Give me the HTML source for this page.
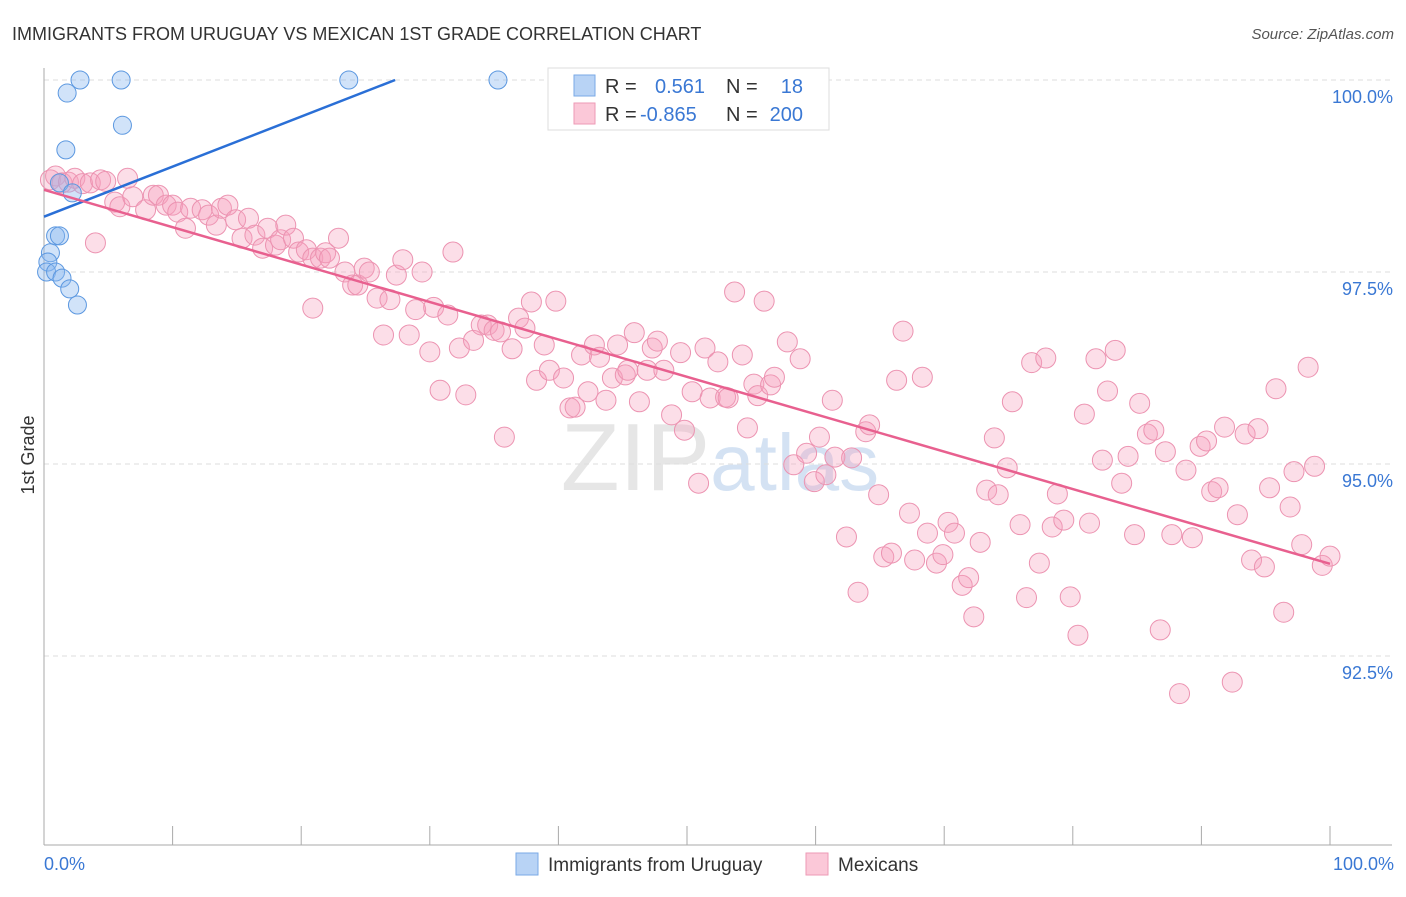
<!DOCTYPE html>
<html><head><meta charset="utf-8">
<style>
html,body{margin:0;padding:0;background:#fff;}
body{width:1406px;height:892px;overflow:hidden;font-family:"Liberation Sans",sans-serif;}
svg text{font-family:"Liberation Sans",sans-serif;}
</style></head>
<body>
<svg id="chart" width="1406" height="892" viewBox="0 0 1406 892">
<text x="12" y="40" font-size="18" fill="#333">IMMIGRANTS FROM URUGUAY VS MEXICAN 1ST GRADE CORRELATION CHART</text>
<text x="1394" y="39" font-size="15" fill="#555" font-style="italic" text-anchor="end">Source: ZipAtlas.com</text>
<text x="720" y="490" font-size="96" fill="#e6e6e6" text-anchor="middle" font-family="Liberation Serif">ZIP<tspan fill="#d4e2f3" font-family="Liberation Sans" font-size="80">atlas</tspan></text>
<g id="grid"></g>
<g id="axes"></g>
<g id="marks"></g>
<text transform="translate(34,455) rotate(-90)" font-size="18" fill="#333" text-anchor="middle">1st Grade</text>
<g>
<rect x="548" y="68" width="281" height="62" fill="#fff" stroke="#ddd"/>
<rect x="574" y="75" width="21" height="21" fill="#b8d3f5" stroke="#7aaae6"/>
<rect x="574" y="103" width="21" height="21" fill="#fbc8d8" stroke="#ee9ab6"/>
<text x="605" y="93" font-size="20" fill="#333">R = <tspan x="655" fill="#3a78d4">0.561</tspan><tspan x="726" fill="#333">N =</tspan><tspan x="803" fill="#3a78d4" text-anchor="end">18</tspan></text>
<text x="605" y="121" font-size="20" fill="#333">R = <tspan x="640" fill="#3a78d4">-0.865</tspan><tspan x="726" fill="#333">N =</tspan><tspan x="803" fill="#3a78d4" text-anchor="end">200</tspan></text>
</g>
<g>
<rect x="516" y="853" width="22" height="22" fill="#b8d3f5" stroke="#7aaae6"/>
<text x="548" y="871" font-size="19" fill="#333">Immigrants from Uruguay</text>
<rect x="806" y="853" width="22" height="22" fill="#fbc8d8" stroke="#ee9ab6"/>
<text x="838" y="871" font-size="19" fill="#333">Mexicans</text>
</g>
</svg>
<script>
const yTicks=[100,97.5,95,92.5];
const yTickLabels=["100.0%","97.5%","95.0%","92.5%"];
const xTickLabels=["0.0%","100.0%"];
const uruguayX=[2.8,6.0,23.7,35.3,1.8,6.1,1.7,1.2,2.2,0.9,1.2,0.5,0.3,0.2,0.9,1.4,2.0,2.6];
const uruguayY=[100,100,100,100,99.83,99.41,99.09,98.66,98.53,97.97,97.97,97.75,97.63,97.5,97.5,97.42,97.28,97.07];
const mexX=[0.5,0.9,1.4,1.9,2.4,3.0,3.6,4.4,4.8,6.5,5.5,5.9,6.9,7.9,8.5,8.9,9.5,10.0,10.4,11.0,11.4,12.3,12.8,13.4,13.8,14.3,14.9,15.4,15.9,16.4,17.0,17.4,18.0,18.4,18.8,19.4,19.8,20.4,20.9,21.5,21.9,22.2,22.9,4.0,20.9,23.4,24.0,24.4,24.9,25.3,25.9,26.4,26.9,27.4,27.9,28.4,28.9,29.4,30.0,30.3,30.8,31.4,31.8,32.3,32.8,33.4,34.0,34.5,35.0,35.5,35.8,36.4,36.9,37.4,37.9,38.3,38.9,39.3,39.8,40.4,40.9,41.3,41.8,42.3,42.8,43.2,43.7,44.2,44.6,45.2,45.4,45.9,46.3,46.9,47.3,47.7,48.2,48.8,49.5,49.8,50.4,50.9,51.4,51.8,52.4,53.0,53.2,53.7,54.3,54.7,55.2,55.5,56.0,56.5,56.8,57.8,58.3,58.8,59.3,59.9,60.3,60.8,61.3,61.5,62.4,62.8,63.3,63.9,64.2,64.9,65.3,65.9,66.3,66.8,67.3,67.7,68.3,68.7,69.4,69.9,70.3,70.8,71.4,71.9,72.3,72.8,73.3,73.9,74.2,74.9,75.3,75.9,76.4,76.8,77.4,77.9,78.4,78.8,79.3,79.8,80.4,80.9,81.3,81.8,82.3,82.7,83.3,83.8,84.3,84.8,85.2,85.8,86.3,86.8,87.2,87.7,88.3,88.8,89.3,89.9,90.4,90.8,91.3,91.8,92.4,92.8,93.4,93.9,94.4,94.9,95.3,95.8,96.4,96.9,97.2,97.8,98.3,98.8,99.4,100.0];
const mexY=[98.70,98.75,98.66,98.67,98.72,98.65,98.66,98.70,98.68,98.72,98.41,98.35,98.48,98.31,98.50,98.50,98.37,98.37,98.28,98.07,98.33,98.31,98.24,98.11,98.33,98.37,98.18,97.94,98.20,97.98,97.81,98.07,97.85,97.92,98.11,97.94,97.76,97.79,97.68,97.68,97.75,97.68,97.94,97.88,97.03,97.50,97.33,97.33,97.55,97.50,97.16,96.68,97.14,97.46,97.66,96.68,97.01,97.50,96.46,97.04,95.96,96.94,97.76,96.51,95.90,96.61,96.81,96.81,96.74,96.72,95.35,96.50,96.90,96.77,97.11,96.09,96.55,96.22,97.12,96.12,95.73,95.74,96.42,95.94,96.55,96.39,95.83,96.12,96.55,96.16,96.22,96.71,95.81,96.22,96.51,96.60,96.22,95.64,96.45,95.44,95.94,94.75,96.51,95.86,96.33,95.87,95.86,97.24,96.42,95.47,96.04,95.89,97.12,96.03,96.13,96.59,94.99,96.37,95.14,94.77,95.35,94.86,95.83,95.09,94.05,95.08,93.33,95.42,95.51,94.60,93.79,93.84,96.09,96.73,94.36,93.75,96.13,94.10,93.71,93.82,94.24,94.10,93.42,93.52,93.01,93.98,94.66,95.34,94.60,94.95,95.81,94.21,93.26,96.32,93.71,96.38,94.18,94.61,94.27,93.27,92.77,95.65,94.23,96.37,95.05,95.95,96.48,94.75,95.10,94.08,95.79,95.39,95.44,92.84,95.16,94.08,92.01,94.92,94.04,95.23,95.30,94.64,94.69,95.48,92.16,94.34,95.39,93.75,95.46,93.66,94.69,95.98,93.07,94.44,94.90,93.95,96.26,94.97,93.68,93.80];
const uruguayTrend=[98.22,0.0652];
const mexTrend=[98.57,-0.0487];

const NS="http://www.w3.org/2000/svg";
const X0=44,X1=1330,YTOP=80,PXPER=76.8;
function sx(v){return X0+(X1-X0)*v/100;}
function sy(v){return YTOP+(100-v)*PXPER;}
function mk(tag,attrs,parent){const e=document.createElementNS(NS,tag);for(const k in attrs)e.setAttribute(k,attrs[k]);parent.appendChild(e);return e;}
const grid=document.getElementById('grid'),axes=document.getElementById('axes'),marks=document.getElementById('marks');
yTicks.forEach((t,i)=>{
  const l=mk('line',{x1:X0,x2:1392,y1:sy(t),y2:sy(t),stroke:'#ddd','stroke-dasharray':'5,4'},grid);
  
  
  const tx=mk('text',{x:1393,y:sy(t)+23,'font-size':18,fill:'#3a78d4','text-anchor':'end'},axes);
  tx.textContent=yTickLabels[i];
  
  
});
const ya=mk('line',{x1:X0,x2:X0,y1:68,y2:845,stroke:'#aaa'},axes);


const xa=mk('line',{x1:X0,x2:1392,y1:845,y2:845,stroke:'#aaa'},axes);


for(let i=0;i<=10;i++){
  const tk=mk('line',{x1:sx(i*10),x2:sx(i*10),y1:826,y2:845,stroke:'#aaa'},axes);
  
  
}
const xl0=mk('text',{x:44,y:870,'font-size':18,fill:'#3a78d4'},axes);
xl0.textContent=xTickLabels[0];


const xl1=mk('text',{x:1394,y:870,'font-size':18,fill:'#3a78d4','text-anchor':'end'},axes);
xl1.textContent=xTickLabels[1];



mexX.forEach((x,i)=>{
  const c=mk('circle',{cx:sx(x),cy:sy(mexY[i]),r:10,fill:'rgba(246,160,188,0.35)',stroke:'#ec93b1','stroke-width':1},marks);
  
  
});
uruguayX.forEach((x,i)=>{
  const c=mk('circle',{cx:sx(x),cy:sy(uruguayY[i]),r:9,fill:'rgba(140,185,240,0.4)',stroke:'#5c98e0','stroke-width':1},marks);
  
  
});
// trend lines
const uxEnd=Math.min(100,(100-uruguayTrend[0])/uruguayTrend[1]);
const ul=mk('line',{x1:sx(0),y1:sy(uruguayTrend[0]),x2:sx(uxEnd),y2:sy(uruguayTrend[0]+uruguayTrend[1]*uxEnd),stroke:'#2a6fd6','stroke-width':2.5},marks);


const ml=mk('line',{x1:sx(0),y1:sy(mexTrend[0]),x2:sx(100),y2:sy(mexTrend[0]+mexTrend[1]*100),stroke:'#e8608f','stroke-width':2.5},marks);


</script>
</body></html>
